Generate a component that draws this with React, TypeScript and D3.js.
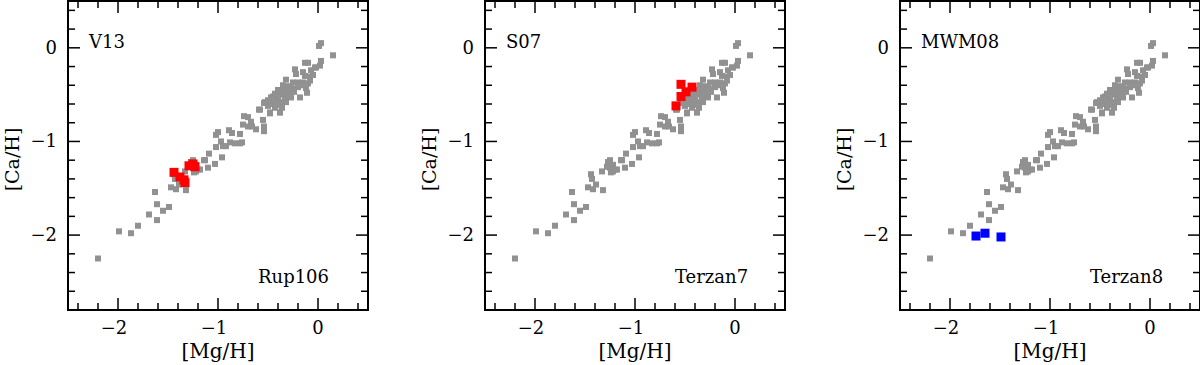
import * as d3 from "d3";

// reference sample: [Mg/H], [Ca/H]  (same cloud in every panel)
const refMg = [
  -2.20, -1.99, -1.87, -1.80, -1.69, -1.61, -1.61, -1.55, -1.49, -1.63,
  -1.47, -1.42, -1.32, -1.39, -1.44, -1.43, -1.22, -1.25, -1.18, -1.13,
  -1.09, -1.10, -1.03, -0.96, -1.27, -1.25, -1.22, -1.20, -1.24, -1.28,
  -1.33, -1.14, -1.02, -1.00, -0.97, -1.02, -0.95, -0.89, -0.86, -0.88,
  -0.92, -0.83, -0.78, -0.76, -0.78, -0.74, -0.70, -0.75, -0.70, -0.66,
  -0.67, -0.62, -0.55, -0.54, -0.54, -0.59, -0.54, -0.50, -0.48, -0.45,
  -0.42, -0.38, -0.38, 0.01, 0.03, 0.15, 0.03, 0.02, -0.13, -0.10,
  -0.03, -0.07, -0.23, -0.22, -0.15, -0.13, -0.08, -0.32, -0.25, -0.20,
  -0.15, -0.10, -0.35, -0.30, -0.27, -0.40, -0.33, -0.43, -0.37, -0.30,
  -0.11, -0.47, -0.40, -0.33, -0.27, -0.18, -0.53, -0.47, -0.40, -0.32,
  -0.58, -0.48, -0.38, -0.43, -0.36, -0.45, -0.42, -0.36, -0.25, -0.20,
  -0.18, -0.28, -0.12, -0.08, -0.05, -0.02, -0.50, -0.44, -0.35, -0.24,
];
const refCa = [
  -2.25, -1.96, -1.98, -1.90, -1.78, -1.84, -1.67, -1.74, -1.70, -1.54,
  -1.49, -1.51, -1.52, -1.46, -1.35, -1.40, -1.32, -1.20, -1.30, -1.20,
  -1.13, -1.28, -1.24, -1.17, -1.22, -1.28, -1.25, -1.30, -1.33, -1.27,
  -1.32, -1.20, -0.93, -0.90, -1.00, -1.06, -1.05, -0.88, -0.91, -1.01,
  -1.05, -1.02, -1.02, -1.01, -0.92, -0.73, -0.74, -0.82, -0.84, -0.84,
  -0.79, -0.87, -0.77, -0.84, -0.89, -0.66, -0.59, -0.56, -0.70, -0.52,
  -0.61, -0.58, -0.69, 0.02, 0.05, -0.08, -0.14, -0.19, -0.16, -0.16,
  -0.21, -0.24, -0.23, -0.28, -0.26, -0.30, -0.31, -0.34, -0.37, -0.37,
  -0.37, -0.38, -0.40, -0.41, -0.43, -0.45, -0.45, -0.49, -0.49, -0.47,
  -0.48, -0.53, -0.55, -0.53, -0.53, -0.53, -0.58, -0.60, -0.60, -0.58,
  -0.66, -0.69, -0.69, -0.64, -0.64, -0.57, -0.51, -0.46, -0.44, -0.42,
  -0.40, -0.48, -0.43, -0.35, -0.29, -0.21, -0.62, -0.55, -0.50, -0.47,
];

// cluster stars
const rup106Mg = [-1.44, -1.38, -1.34, -1.33, -1.29, -1.23, -1.25];
const rup106Ca = [-1.33, -1.38, -1.41, -1.44, -1.26, -1.27, -1.24];
const terzan7Mg = [-0.54, -0.43, -0.49, -0.54, -0.59];
const terzan7Ca = [-0.39, -0.42, -0.47, -0.52, -0.62];
const terzan8Mg = [-1.74, -1.65, -1.49];
const terzan8Ca = [-2.01, -1.98, -2.02];

const panels = [
  { source: "V13", cluster: "Rup106", mg: rup106Mg, ca: rup106Ca, color: "#ff0000" },
  { source: "S07", cluster: "Terzan7", mg: terzan7Mg, ca: terzan7Ca, color: "#ff0000" },
  { source: "MWM08", cluster: "Terzan8", mg: terzan8Mg, ca: terzan8Ca, color: "#0000ff" },
];

const xTicks = [-2, -1, 0];
const yTicks = [0, -1, -2];

const W = 300;
const TOP = 1;
const BOTTOM = 310;
const FONT = "'DejaVu Serif', serif";

function Panel({ left, p }) {
  const x = d3.scaleLinear().domain([-2.5, 0.5]).range([left, left + W]);
  const y = d3.scaleLinear().domain([-2.8, 0.5]).range([BOTTOM, TOP]);
  const xMinor = d3.range(-24, 5, 2).map((d) => d / 10);
  const yMinor = d3.range(-26, 5, 2).map((d) => d / 10);
  const isMajor = (v) => Math.abs(v - Math.round(v)) < 1e-6;
  const fmt = (v) => (v < 0 ? "\u2212" + Math.abs(v) : String(v));
  const gs = 6;
  const cs = 9;

  return (
    <g>
      {refMg.map((m, i) => (
        <rect key={"g" + i} x={x(m) - gs / 2} y={y(refCa[i]) - gs / 2}
          width={gs} height={gs} fill="#919191" />
      ))}
      {p.mg.map((m, i) => (
        <rect key={"c" + i} x={x(m) - cs / 2} y={y(p.ca[i]) - cs / 2}
          width={cs} height={cs} fill={p.color} />
      ))}

      {xMinor.map((v) => {
        const len = isMajor(v) ? 12 : 7;
        return (
          <g key={"xt" + v} stroke="#000" strokeWidth={1.5}>
            <line x1={x(v)} x2={x(v)} y1={BOTTOM} y2={BOTTOM - len} />
            <line x1={x(v)} x2={x(v)} y1={TOP} y2={TOP + len} />
          </g>
        );
      })}
      {yMinor.map((v) => {
        const len = isMajor(v) ? 12 : 7;
        return (
          <g key={"yt" + v} stroke="#000" strokeWidth={1.5}>
            <line x1={left} x2={left + len} y1={y(v)} y2={y(v)} />
            <line x1={left + W} x2={left + W - len} y1={y(v)} y2={y(v)} />
          </g>
        );
      })}
      <rect x={left} y={TOP} width={W} height={BOTTOM - TOP}
        fill="none" stroke="#000" strokeWidth={2} />

      {xTicks.map((v) => (
        <text key={"xl" + v} x={x(v) - (v < 0 ? 4 : 0)} y={334}
          textAnchor="middle" fontSize={18} fontFamily={FONT}>{fmt(v)}</text>
      ))}
      {yTicks.map((v) => (
        <text key={"yl" + v} x={left - 11} y={y(v) + 6}
          textAnchor="end" fontSize={18} fontFamily={FONT}>{fmt(v)}</text>
      ))}
      <text x={left + W / 2} y={358} textAnchor="middle" fontSize={20}
        fontFamily={FONT}>[Mg/H]</text>
      <text transform={`translate(${left - 49},${(TOP + BOTTOM) / 2 + 4}) rotate(-90)`}
        textAnchor="middle" fontSize={19} fontFamily={FONT}>[Ca/H]</text>

      <text x={left + 21} y={48} fontSize={18} fontFamily={FONT}>{p.source}</text>
      <text x={left + 190} y={283} fontSize={18} fontFamily={FONT}>{p.cluster}</text>
    </g>
  );
}

export default function App() {
  const lefts = [68, 485, 900];
  return (
    <svg width={1200} height={365}
      style={{ position: "absolute", left: 0, top: 0, background: "#fff" }}>
      {panels.map((p, i) => (
        <Panel key={p.cluster} left={lefts[i]} p={p} />
      ))}
    </svg>
  );
}
